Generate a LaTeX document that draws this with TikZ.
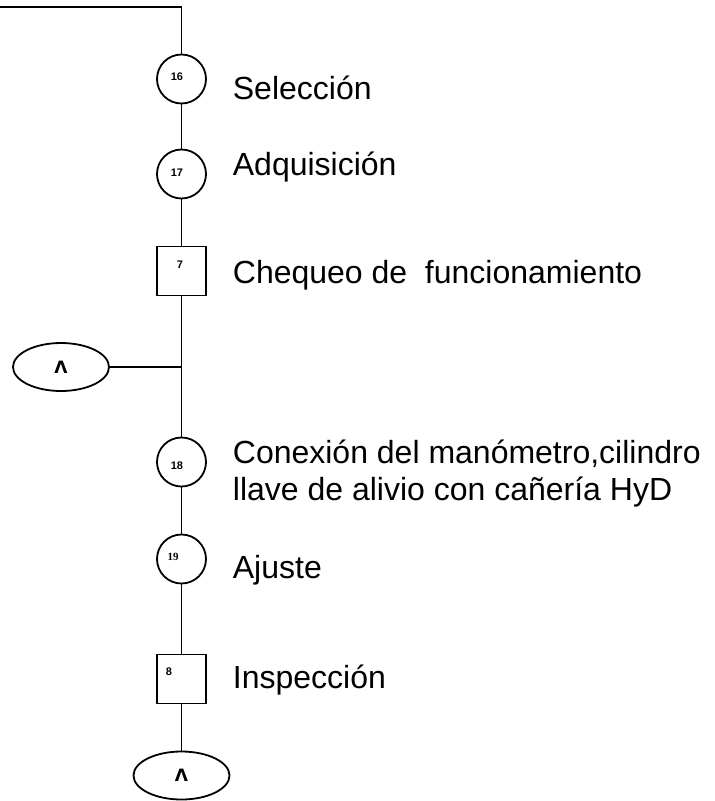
\documentclass[tikz,border=0pt]{standalone}
\usepackage{fontspec}
\setmainfont{Liberation Sans}
\newfontfamily\numserif{Liberation Serif}
\newfontfamily\caretfont{DejaVu Sans}
\usetikzlibrary{shapes.geometric}

\begin{document}
\begin{tikzpicture}[x=1pt, y=-1pt, line width=1.8pt,
  opcircle/.style={draw, circle, minimum size=49pt, inner sep=0pt},
  opsquare/.style={draw, rectangle, minimum size=49pt, inner sep=0pt},
  connector/.style={draw, ellipse, minimum width=96pt, minimum height=48pt, inner sep=0pt,
    font=\fontsize{17}{20}\selectfont\caretfont\bfseries},
  num/.style={font=\fontsize{11}{12}\selectfont\bfseries, inner sep=0pt},
  step label/.style={anchor=base west, inner sep=0pt, font=\fontsize{32}{37}\selectfont}]
  \useasboundingbox (0,0) rectangle (715,801);

  % Entrada (arriba)
  \coordinate (topleft) at (0,7);
  \coordinate (topcorner) at (181.5,7);

  % Operaciones
  \node (c16) [opcircle] at (181.5,79) {};
  \node (c17) [opcircle] at (181.5,174) {};
  \node (s7) [opsquare] at (181.5,271) {};
  \coordinate (junc) at (181.5,367);
  \node (k1) [connector] at (61,367) {Λ};
  \node (c18) [opcircle] at (181.5,462) {};
  \node (c19) [opcircle] at (181.5,559) {};
  \node (s8) [opsquare] at (181.5,679) {};
  \node (k2) [connector] at (181.5,775.5) {Λ};

  % Numeros
  \node (n16) [num] at (177,77) {16};
  \node (n17) [num] at (177,173) {17};
  \node (n7) [num] at (180,265) {7};
  \node (n18) [num] at (177,466) {18};
  \node (n19) [num, font=\fontsize{11}{12}\selectfont\bfseries\numserif] at (173,557) {19};
  \node (n8) [num] at (169,672) {8};

  % Textos
  \node (t16) [step label] at (232,99) {Selección};
  \node (t17) [step label] at (232,175) {Adquisición};
  \node (t7) [step label] at (232,283) {Chequeo de \ funcionamiento};
  \node (t18) [step label] at (232,463) {Conexión del manómetro,cilindro};
  \node (t18b) [step label] at (232,500) {llave de alivio con cañería HyD};
  \node (t19) [step label] at (232,578) {Ajuste};
  \node (t8) [step label] at (232,688) {Inspección};

  % Lineas
  \draw (topleft) -- (topcorner) -- (c16);
  \draw (c16) -- (c17);
  \draw (c17) -- (s7);
  \draw (s7) -- (junc) -- (c18);
  \draw (k1) -- (junc);
  \draw (c18) -- (c19);
  \draw (c19) -- (s8);
  \draw (s8) -- (k2);
\end{tikzpicture}
\end{document}
